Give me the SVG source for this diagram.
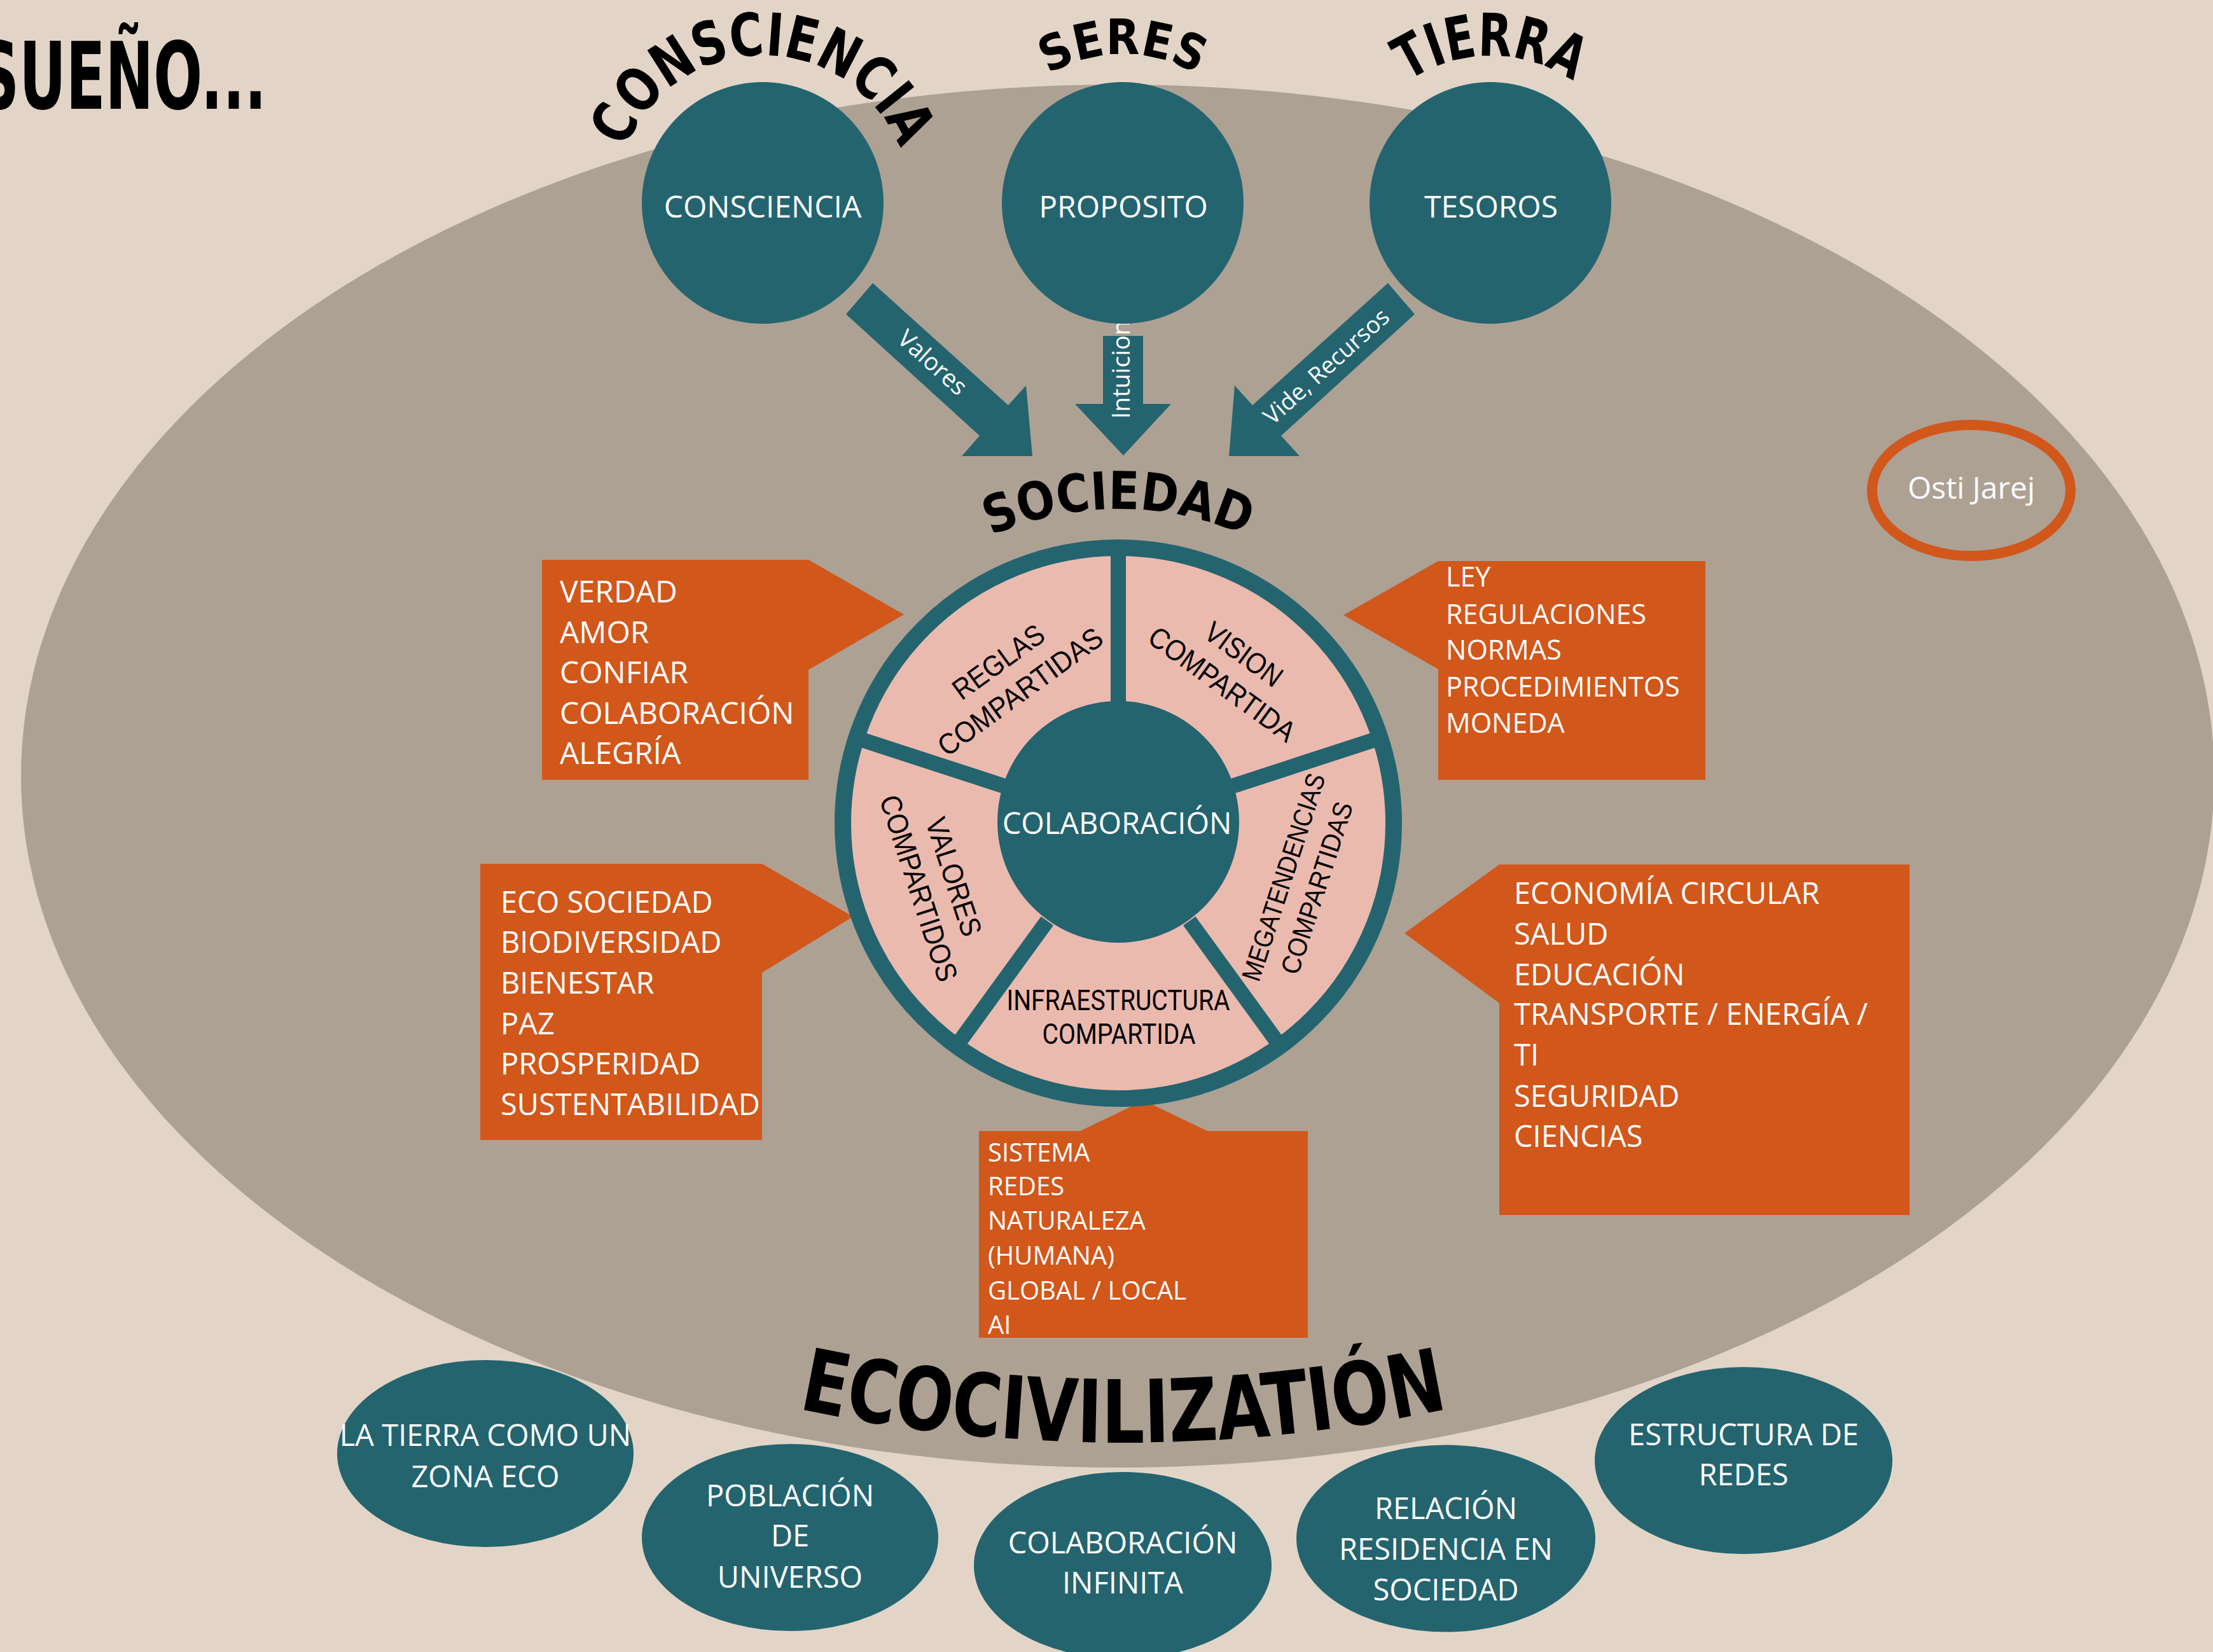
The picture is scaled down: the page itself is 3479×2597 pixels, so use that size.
<svg xmlns="http://www.w3.org/2000/svg" width="3479" height="2597" viewBox="0 0 3479 2597">
<defs>
<style>
.teal{fill:#24646F}
.orange{fill:#D1571B}
.wt{fill:#ffffff;font-family:"Open Sans","Noto Sans","DejaVu Sans",sans-serif}
.mid{text-anchor:middle}
.ttl{fill:#000;font-family:"DejaVu Sans Condensed","Roboto Condensed","Liberation Sans Narrow","DejaVu Sans",sans-serif;font-weight:bold}
.seg{fill:#000;font-family:"Liberation Sans",Arial,sans-serif;text-anchor:middle}
.infra{fill:#000;font-family:Roboto,"Liberation Sans",sans-serif;text-anchor:middle}
</style>
<path id="pCons" d="M 970.5 278.7 A 232 232 0 0 1 1427.5 278.7"/>
<path id="pSeres" d="M 1534.6 278.4 A 234 234 0 0 1 1995.4 278.4"/>
<path id="pTierra" d="M 2115.5 278.9 A 231 231 0 0 1 2570.5 278.9"/>
<path id="pSoc" d="M 1440.5 915.6 A 494 494 0 0 1 2075.5 915.6"/>
<path id="pEco" d="M 1123 2183 A 2484 2484 0 0 0 2409 2183"/>
</defs>

<rect width="3479" height="2597" fill="#E2D5C7"/>
<ellipse cx="1757" cy="1220" rx="1724" ry="1087" fill="#ADA194"/>

<text class="ttl" x="-35" y="171" font-size="147" textLength="454" lengthAdjust="spacingAndGlyphs">SUEÑO...</text>

<!-- callouts -->
<g id="callout-sistema">
<polygon class="orange" points="1539,1778 1698,1778 1798,1730 1898,1778 2056,1778 2056,2103 1539,2103"/>
<text class="wt" font-size="40"><tspan x="1553" y="1825.6">SISTEMA</tspan><tspan x="1553" y="1878.9">REDES</tspan><tspan x="1553" y="1933.4">NATURALEZA</tspan><tspan x="1553" y="1988">(HUMANA)</tspan><tspan x="1553" y="2042.5">GLOBAL / LOCAL</tspan><tspan x="1553" y="2097">AI</tspan></text>
</g>
<g id="callout-verdad">
<polygon class="orange" points="852,880 1271,880 1421,966 1271,1053 1271,1226 852,1226"/>
<text class="wt" font-size="48"><tspan x="880" y="947">VERDAD</tspan><tspan x="880" y="1010.6">AMOR</tspan><tspan x="880" y="1074">CONFIAR</tspan><tspan x="880" y="1137.8">COLABORACIÓN</tspan><tspan x="880" y="1201.4">ALEGRÍA</tspan></text>
</g>
<g id="callout-eco">
<polygon class="orange" points="755,1358 1198,1358 1341,1441 1198,1529 1198,1792 755,1792"/>
<text class="wt" font-size="47"><tspan x="787" y="1434.7">ECO SOCIEDAD</tspan><tspan x="787" y="1498.3">BIODIVERSIDAD</tspan><tspan x="787" y="1562">BIENESTAR</tspan><tspan x="787" y="1625.5">PAZ</tspan><tspan x="787" y="1689">PROSPERIDAD</tspan><tspan x="787" y="1752.7">SUSTENTABILIDAD</tspan></text>
</g>
<g id="callout-ley">
<polygon class="orange" points="2261,882 2681,882 2681,1226 2261,1226 2261,1052 2112,967"/>
<text class="wt" font-size="43"><tspan x="2273" y="922.4">LEY</tspan><tspan x="2273" y="981.4">REGULACIONES</tspan><tspan x="2273" y="1037.2">NORMAS</tspan><tspan x="2273" y="1094.6">PROCEDIMIENTOS</tspan><tspan x="2273" y="1152">MONEDA</tspan></text>
</g>
<g id="callout-economia">
<polygon class="orange" points="2357,1359 3002,1359 3002,1910 2357,1910 2357,1577 2208,1467"/>
<text class="wt" font-size="47"><tspan x="2380" y="1421.4">ECONOMÍA CIRCULAR</tspan><tspan x="2380" y="1485">SALUD</tspan><tspan x="2380" y="1548.5">EDUCACIÓN</tspan><tspan x="2380" y="1611.2">TRANSPORTE / ENERGÍA /</tspan><tspan x="2380" y="1674.7">TI</tspan><tspan x="2380" y="1739.8">SEGURIDAD</tspan><tspan x="2380" y="1802.5">CIENCIAS</tspan></text>
</g>

<!-- pie -->
<g id="sociedad-pie">
<circle cx="1758" cy="1294" r="433" fill="#EBBAAF" stroke="#24646F" stroke-width="26"/>
<g stroke="#24646F" stroke-width="24">
<line x1="1758" y1="1104" x2="1758" y2="861"/>
<line x1="1938.7" y1="1235.3" x2="2169.8" y2="1160.2"/>
<line x1="1869.7" y1="1447.7" x2="2012.5" y2="1644.3"/>
<line x1="1646.3" y1="1447.7" x2="1503.5" y2="1644.3"/>
<line x1="1577.3" y1="1235.3" x2="1346.2" y2="1160.2"/>
</g>
<circle class="teal" cx="1758" cy="1292" r="190"/>
<text class="wt mid" x="1756" y="1311" font-size="47">COLABORACIÓN</text>
<g transform="translate(1586,1063) rotate(-36)"><text class="seg" font-size="46"><tspan x="0" y="-12" textLength="166" lengthAdjust="spacingAndGlyphs">REGLAS</tspan><tspan x="0" y="46" textLength="308" lengthAdjust="spacingAndGlyphs">COMPARTIDAS</tspan></text></g>
<g transform="translate(1939,1051) rotate(36)"><text class="seg" font-size="46"><tspan x="0" y="-12" textLength="139" lengthAdjust="spacingAndGlyphs">VISION</tspan><tspan x="0" y="46" textLength="273" lengthAdjust="spacingAndGlyphs">COMPARTIDA</tspan></text></g>
<g transform="translate(2043,1387) rotate(-72)"><text class="seg" font-size="42"><tspan x="0" y="-12" textLength="340" lengthAdjust="spacingAndGlyphs">MEGATENDENCIAS</tspan><tspan x="0" y="43" textLength="282" lengthAdjust="spacingAndGlyphs">COMPARTIDAS</tspan></text></g>
<g transform="translate(1473,1387) rotate(72)"><text class="seg" font-size="46"><tspan x="0" y="-12" textLength="193" lengthAdjust="spacingAndGlyphs">VALORES</tspan><tspan x="0" y="46" textLength="305" lengthAdjust="spacingAndGlyphs">COMPARTIDOS</tspan></text></g>
<text class="infra" font-size="44"><tspan x="1758" y="1587.5" textLength="351" lengthAdjust="spacingAndGlyphs">INFRAESTRUCTURA</tspan><tspan x="1759" y="1641" textLength="241" lengthAdjust="spacingAndGlyphs">COMPARTIDA</tspan></text>
</g>

<text class="ttl" font-size="82"><textPath href="#pSoc" startOffset="50%" text-anchor="middle" textLength="411" lengthAdjust="spacingAndGlyphs">SOCIEDAD</textPath></text>

<!-- connectors -->
<g id="connectors">
<polygon class="teal" points="1372,445 1585,637 1613,606 1623,717 1512,717 1540,685 1330,494"/>
<polygon class="teal" points="1734,528 1797,528 1797,635 1841,635 1766,716 1690,635 1734,635"/>
<polygon class="teal" points="2182,445 1969,637 1941,606 1932,717 2043,717 2014,685 2224,494"/>
<text class="wt mid" font-size="38" transform="translate(1466,570) rotate(42)" y="13">Valores</text>
<text class="wt mid" font-size="38" transform="translate(1763,581) rotate(-90)" y="13">Intuicion</text>
<text class="wt mid" font-size="37" transform="translate(2085,576) rotate(-42)" y="13">Vide, Recursos</text>
</g>

<!-- top nodes -->
<g id="node-consciencia">
<circle class="teal" cx="1199" cy="319" r="190"/>
<text class="wt mid" x="1199" y="342" font-size="48">CONSCIENCIA</text>
<text class="ttl" font-size="93"><textPath href="#pCons" startOffset="50%" text-anchor="middle" textLength="554" lengthAdjust="spacingAndGlyphs">CONSCIENCIA</textPath></text>
</g>
<g id="node-proposito">
<circle class="teal" cx="1765" cy="319" r="190"/>
<text class="wt mid" x="1766" y="342" font-size="48">PROPOSITO</text>
<text class="ttl" font-size="77"><textPath href="#pSeres" startOffset="50%" text-anchor="middle" textLength="245" lengthAdjust="spacingAndGlyphs">SERES</textPath></text>
</g>
<g id="node-tesoros">
<circle class="teal" cx="2343" cy="319" r="190"/>
<text class="wt mid" x="2344" y="342" font-size="48">TESOROS</text>
<text class="ttl" font-size="93"><textPath href="#pTierra" startOffset="50%" text-anchor="middle" textLength="276" lengthAdjust="spacingAndGlyphs">TIERRA</textPath></text>
</g>

<g id="node-osti">
<ellipse cx="3099" cy="771" rx="156" ry="103" fill="none" stroke="#D1571B" stroke-width="16"/>
<text class="wt mid" x="3099" y="784" font-size="48">Osti Jarej</text>
</g>

<text class="ttl" font-size="137"><textPath href="#pEco" startOffset="50%" text-anchor="middle" textLength="1030" lengthAdjust="spacingAndGlyphs">ECOCIVILIZATIÓN</textPath></text>

<!-- bottom nodes -->
<g id="node-tierra-eco">
<ellipse class="teal" cx="763" cy="2285" rx="233" ry="147"/>
<text class="wt mid" font-size="47"><tspan x="763" y="2273">LA TIERRA COMO UN</tspan><tspan x="763" y="2338">ZONA ECO</tspan></text>
</g>
<g id="node-poblacion">
<ellipse class="teal" cx="1242" cy="2417" rx="233" ry="147"/>
<text class="wt mid" font-size="47"><tspan x="1242" y="2367.5">POBLACIÓN</tspan><tspan x="1242" y="2431">DE</tspan><tspan x="1242" y="2495.5">UNIVERSO</tspan></text>
</g>
<g id="node-colab-infinita">
<ellipse class="teal" cx="1765" cy="2461" rx="234" ry="147"/>
<text class="wt mid" font-size="47"><tspan x="1765" y="2441.7">COLABORACIÓN</tspan><tspan x="1765" y="2504.6">INFINITA</tspan></text>
</g>
<g id="node-relacion">
<ellipse class="teal" cx="2273" cy="2418.5" rx="235" ry="147"/>
<text class="wt mid" font-size="47"><tspan x="2273" y="2387.7">RELACIÓN</tspan><tspan x="2273" y="2452.2">RESIDENCIA EN</tspan><tspan x="2273" y="2516.4">SOCIEDAD</tspan></text>
</g>
<g id="node-estructura">
<ellipse class="teal" cx="2741" cy="2296" rx="234" ry="147"/>
<text class="wt mid" font-size="47"><tspan x="2741" y="2271.5">ESTRUCTURA DE</tspan><tspan x="2741" y="2335.4">REDES</tspan></text>
</g>
</svg>
